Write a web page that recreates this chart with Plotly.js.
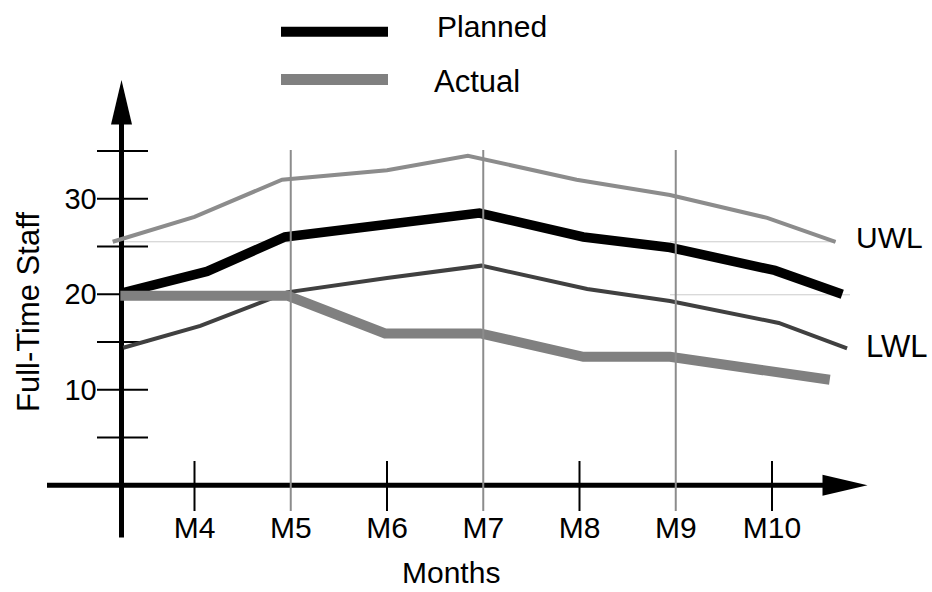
<!DOCTYPE html>
<html><head><meta charset="utf-8">
<script src="https://cdn.plot.ly/plotly-3.0.1.min.js"></script>
<style>html,body{margin:0;padding:0;background:#fff}#chart{width:932px;height:592px}</style>
</head><body><div id="chart"></div>
<script>
// ---- data ----
const monthTicks = [4, 5, 6, 7, 8, 9, 10];
const monthLabels = ['M4', 'M5', 'M6', 'M7', 'M8', 'M9', 'M10'];
const staffTicks = [10, 20, 30];
const staffLabels = ['10', '20', '30'];
const staffMinorTicks = [5, 10, 15, 20, 25, 30, 35];
const tickedMonths = [4, 6, 8, 10];
const gridMonths = [5, 7, 9];

const uwlMonths = [3.15, 4.0, 4.91, 6.0, 6.84, 7.97, 8.94, 9.95, 10.66];
const uwlValues = [25.5, 28.1, 32.0, 33.0, 34.5, 32.0, 30.4, 28.0, 25.5];

const plannedMonths = [3.23, 4.13, 4.94, 6.0, 6.96, 8.04, 8.94, 10.03, 10.73];
const plannedValues = [20.1, 22.4, 26.0, 27.2, 28.5, 26.0, 24.9, 22.5, 20.0];

const lwlMonths = [3.26, 4.06, 4.96, 6.0, 6.98, 8.08, 8.94, 10.07, 10.78];
const lwlValues = [14.4, 16.7, 20.2, 21.7, 23.0, 20.55, 19.3, 17.0, 14.35];

const actualMonths = [3.23, 4.97, 5.98, 6.97, 8.04, 8.94, 10.6];
const actualValues = [19.85, 19.85, 15.9, 15.9, 13.45, 13.45, 11.05];

const uwlRefLevel = 25.5;
const lwlRefLevel = 19.95;

// ---- layout geometry ----
const W = 932, H = 592;
const X0PX = 194.5, XSCALE = 96.25;   // pixel of M4, pixels per month
const Y0PX = 485.3, YSCALE = 9.55;    // pixel of 0 staff, pixels per staff
const mx = p => 4 + (p - X0PX) / XSCALE;
const vy = p => (Y0PX - p) / YSCALE;
const px = p => p / W;
const py = p => 1 - p / H;
const FONT = 'Liberation Sans, Arial, Helvetica, sans-serif';

const yAxisMonth = mx(121.5);

const traces = [
  {x: uwlMonths, y: uwlValues, mode: 'lines', line: {color: '#8c8c8c', width: 4}, name: 'UWL'},
  {x: lwlMonths, y: lwlValues, mode: 'lines', line: {color: '#404040', width: 4}, name: 'LWL'},
  {x: plannedMonths, y: plannedValues, mode: 'lines', line: {color: '#000000', width: 9.5}, name: 'Planned'},
  {x: actualMonths, y: actualValues, mode: 'lines', line: {color: '#808080', width: 10}, name: 'Actual'}
];

const shapes = [];
// faint reference lines
shapes.push({type: 'line', xref: 'x', yref: 'y', x0: mx(113), x1: mx(290), y0: uwlRefLevel, y1: uwlRefLevel, line: {color: '#cccccc', width: 1}, layer: 'below'});
shapes.push({type: 'line', xref: 'x', yref: 'y', x0: mx(670), x1: mx(836), y0: uwlRefLevel, y1: uwlRefLevel, line: {color: '#cccccc', width: 1}, layer: 'below'});
shapes.push({type: 'line', xref: 'x', yref: 'y', x0: mx(670), x1: mx(850), y0: lwlRefLevel, y1: lwlRefLevel, line: {color: '#cccccc', width: 1}, layer: 'below'});
// y axis line + arrow
shapes.push({type: 'line', xref: 'x', yref: 'y', x0: yAxisMonth, x1: yAxisMonth, y0: vy(537.5), y1: vy(122), line: {color: '#000', width: 5}, layer: 'below'});
const adx = 10.5 / XSCALE;
shapes.push({type: 'path', xref: 'x', yref: 'y', path: `M ${yAxisMonth},${vy(80)} L ${yAxisMonth - adx},${vy(124.5)} L ${yAxisMonth + adx},${vy(124.5)} Z`, fillcolor: '#000', line: {width: 0}, layer: 'below'});
// x axis line + arrow
shapes.push({type: 'line', xref: 'x', yref: 'y', x0: mx(47), x1: mx(825), y0: 0, y1: 0, line: {color: '#000', width: 5}, layer: 'below'});
const ady = 10.5 / YSCALE;
shapes.push({type: 'path', xref: 'x', yref: 'y', path: `M ${mx(867.5)},0 L ${mx(822.5)},${ady} L ${mx(822.5)},${-ady} Z`, fillcolor: '#000', line: {width: 0}, layer: 'below'});
// y ticks
staffMinorTicks.forEach(v => shapes.push({type: 'line', xref: 'x', yref: 'y', x0: mx(97), x1: mx(148), y0: v, y1: v, line: {color: '#000', width: 2}, layer: 'below'}));
// x ticks
tickedMonths.forEach(m => shapes.push({type: 'line', xref: 'x', yref: 'y', x0: m, x1: m, y0: vy(461), y1: vy(511), line: {color: '#000', width: 2}, layer: 'below'}));
// vertical grid lines (drawn on top)
gridMonths.forEach(m => shapes.push({type: 'line', xref: 'x', yref: 'y', x0: m, x1: m, y0: vy(150), y1: vy(511), line: {color: '#8c8c8c', width: 2}, layer: 'above'}));
// legend swatches
shapes.push({type: 'line', xref: 'paper', yref: 'paper', x0: px(281), x1: px(388), y0: py(31.7), y1: py(31.7), line: {color: '#000', width: 10}});
shapes.push({type: 'line', xref: 'paper', yref: 'paper', x0: px(281), x1: px(388), y0: py(79.5), y1: py(79.5), line: {color: '#808080', width: 11}});

const ann = (text, x, y, size, xanchor, extra) => Object.assign({
  text: text, xref: 'paper', yref: 'paper', x: px(x), y: py(y), xanchor: xanchor || 'left', yanchor: 'middle',
  showarrow: false, font: {family: FONT, size: size, color: '#000'}
}, extra || {});

const annotations = [
  ann('Planned', 435, 26, 30),
  ann('Actual', 432, 82, 31),
  ann('UWL', 854, 238, 30),
  ann('LWL', 864, 346, 31),
  ann('Months', 451, 591, 30, 'center', {yanchor: 'bottom'}),
  ann('Full-Time Staff', 29, 312, 31, 'center', {textangle: -90})
];

const layout = {
  width: W, height: H,
  margin: {l: 0, r: 0, t: 0, b: 0, pad: 0},
  paper_bgcolor: '#ffffff', plot_bgcolor: '#ffffff',
  showlegend: false,
  xaxis: {
    range: [mx(0), mx(W)], domain: [0, 1], anchor: 'free', position: 1 - Y0PX / H,
    tickmode: 'array', tickvals: monthTicks, ticktext: monthLabels,
    ticks: 'outside', ticklen: 16, tickcolor: 'rgba(0,0,0,0)',
    showline: false, showgrid: false, zeroline: false, fixedrange: true,
    tickfont: {family: FONT, size: 30, color: '#000'}
  },
  yaxis: {
    range: [vy(H), vy(0)], domain: [0, 1], anchor: 'free', position: 121.5 / W,
    tickmode: 'array', tickvals: staffTicks, ticktext: staffLabels,
    ticks: 'outside', ticklen: 19, tickcolor: 'rgba(0,0,0,0)',
    showline: false, showgrid: false, zeroline: false, fixedrange: true,
    tickfont: {family: FONT, size: 29, color: '#000'}
  },
  shapes: shapes,
  annotations: annotations
};

Plotly.newPlot('chart', traces, layout, {displayModeBar: false, staticPlot: true});
</script>
</body></html>
